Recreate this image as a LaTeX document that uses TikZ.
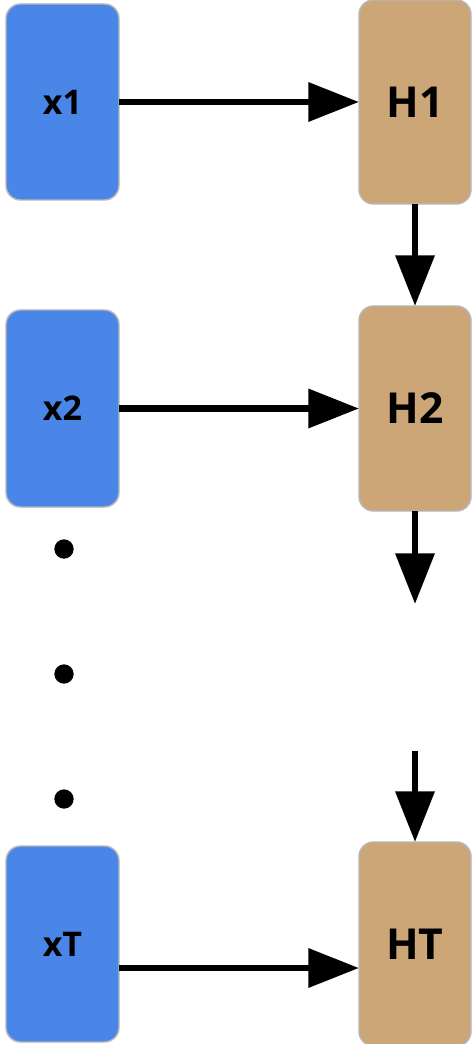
\documentclass[tikz,border=0pt]{standalone}
\usepackage{fontspec}
\setmainfont{Open Sans}
\usetikzlibrary{arrows.meta}
\definecolor{inblue}{HTML}{4A86E8}
\definecolor{hidtan}{HTML}{CCA677}
\definecolor{edgegray}{HTML}{B7B7B7}
\tikzset{
  box/.style={rectangle, rounded corners=11pt, draw=edgegray, line width=1.1pt,
    inner sep=0pt, outer sep=0pt, font=\bfseries},
  inbox/.style={box, fill=inblue, minimum width=84.75pt,
    font=\bfseries\fontsize{25.5}{30}\selectfont},
  hidbox/.style={box, fill=hidtan, minimum width=84pt,
    font=\bfseries\fontsize{32}{36}\selectfont},
  conn/.style={line width=5.1pt, -{Triangle[length=38pt,width=28.5pt]}},
  dot/.style={circle, fill=black, inner sep=0pt, minimum size=14.5pt}
}
\begin{document}
\begin{tikzpicture}[x=0.75pt,y=-0.75pt]
\useasboundingbox (0,0) rectangle (471,1044);
\node[inbox, minimum height=147pt] (x1) at (62.5,102) {x1};
\node[hidbox, minimum height=153pt] (H1) at (415,102) {H1};
\node[inbox, minimum height=147.75pt] (x2) at (62.5,408.5) {x2};
\node[hidbox, minimum height=153.75pt] (H2) at (415,408.5) {H2};
\node[inbox, minimum height=147pt] (xT) at (62.5,944) {xT};
\node[hidbox, minimum height=153pt] (HT) at (415,944) {HT};
\node[dot] (d1) at (64,549) {};
\node[dot] (d2) at (64,674) {};
\node[dot] (d3) at (64,799) {};
\coordinate (c1) at (415,604);
\coordinate (c2) at (415,751);
\draw[conn] (x1.east) -- (H1.west);
\draw[conn] (x2.east) -- (H2.west);
\draw[conn] ([yshift=-18pt]xT.east) -- ([yshift=-18pt]HT.west);
\draw[conn] (H1.south) -- (H2.north);
\draw[conn] (H2.south) -- (c1);
\draw[conn] (c2) -- (HT.north);
\end{tikzpicture}
\end{document}
